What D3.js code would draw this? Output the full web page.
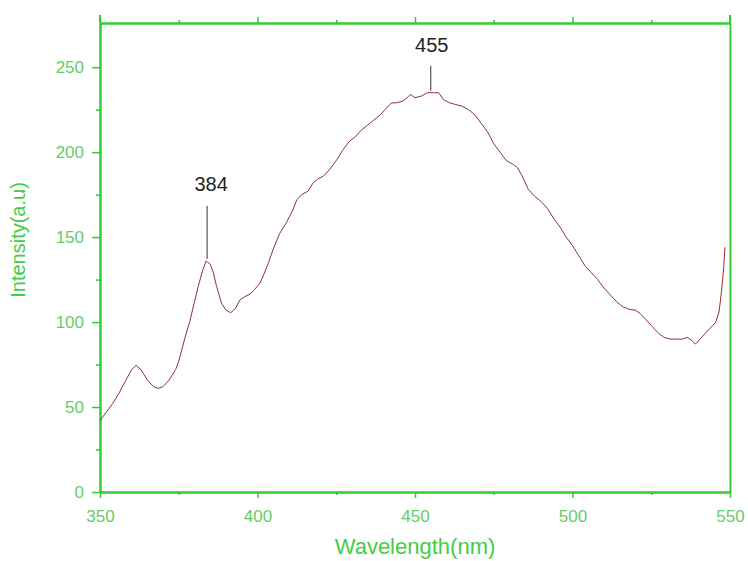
<!DOCTYPE html>
<html>
<head>
<meta charset="utf-8">
<script src="https://cdn.jsdelivr.net/npm/d3@7"></script>
<style>
  html, body { margin: 0; padding: 0; background: #fff; }
  svg { display: block; font-family: "Liberation Sans", Arial, sans-serif; }
</style>
</head>
<body>
<svg id="chart" width="748" height="561"></svg>
<script>

// emission spectrum
const wavelength = [
  350, 352, 354, 356, 358, 360, 361.5, 363, 365, 367, 368.5, 370, 372, 374, 375,
  376, 377, 378.6, 380, 381.2, 382.5, 383.7, 385, 386, 387, 388.6, 390, 391.5, 393,
  394.4, 396, 397.6, 399, 400.8, 402, 403.5, 405, 407, 409, 411, 412.5, 414, 416,
  417.7, 419, 421, 423, 425, 427, 429, 431, 433, 435, 437, 439, 441, 442.5, 444,
  446, 447.5, 448.5, 450, 452, 454, 456, 457.5, 459, 461, 463, 465, 467, 469, 471,
  473, 475, 477, 479, 481, 482.5, 484, 486, 488, 490, 492, 494, 496, 498, 500, 502,
  504, 506, 508, 510, 512, 514, 516, 518, 520, 521.5, 523, 525, 527, 529, 531, 533,
  535, 536.5, 538, 539, 540.5, 542.5, 544, 545.5, 546.5, 547, 547.5, 548, 548.4
];

const intensity = [
  42, 47, 52, 58, 65, 72, 74.5, 72, 66, 62, 61, 62, 66, 72, 77,
  84, 91, 101, 112, 121, 130, 136, 134, 129, 121, 111, 107, 105.5, 108,
  113, 115, 116.5, 119, 123, 128, 135, 143, 152, 158, 165, 172, 175, 177,
  182, 184, 186, 190, 195, 201, 206, 209, 213, 216, 219, 222, 226, 229, 229,
  230, 232, 234, 232, 233, 235, 235, 235, 231, 229, 228, 227, 225, 222, 217,
  212, 205, 200, 195, 193, 191, 186, 178, 174, 171, 167, 161, 156, 150, 145, 139,
  133, 129, 125, 120, 116, 112, 109, 107.5, 107, 105, 102, 98, 94, 91, 90, 90,
  90, 91, 89, 87, 90, 94, 97, 100, 106, 113, 122, 132, 144
];

const xTicks = [350, 400, 450, 500, 550];
const xMinorTicks = [375, 425, 475, 525];
const yTicks = [0, 50, 100, 150, 200, 250];
const yMinorTicks = [25, 75, 125, 175, 225];

// annotated peaks: wavelength, intensity at peak
const peakLabels = ['384', '455'];
const peakX = [384, 455];
const peakY = [136, 235];

const xTitle = 'Wavelength(nm)';
const yTitle = 'Intensity(a.u)';

const axisGreen = '#33cc33';
const labelGreen = '#66cc66';

const plotLeft = 100, plotRight = 730, plotTop = 23, plotBottom = 492;

const svg = d3.select('#chart');

const x = d3.scaleLinear().domain([350, 550]).range([plotLeft, plotRight]);
const y = d3.scaleLinear().domain([0, 276]).range([plotBottom, plotTop]);

// axis helper: draw line + ticks in green
function styleAxis(g) {
  g.selectAll('path.domain').attr('stroke', axisGreen).attr('stroke-width', 2);
  g.selectAll('.tick line').attr('stroke', axisGreen).attr('stroke-width', 1.5);
  g.selectAll('.tick text')
    .attr('fill', labelGreen)
    .style('font-size', '17px')
    .style('font-family', '"Liberation Sans", Arial, sans-serif');
}

// bottom axis
svg.append('g')
  .attr('transform', `translate(0,${plotBottom})`)
  .call(d3.axisBottom(x).tickValues(xMinorTicks).tickSize(3).tickSizeOuter(0).tickFormat(''))
  .call(styleAxis);

svg.append('g')
  .attr('transform', `translate(0,${plotBottom})`)
  .call(d3.axisBottom(x).tickValues(xTicks).tickSize(6).tickSizeOuter(0).tickPadding(12))
  .call(styleAxis);

// top axis
svg.append('g')
  .attr('transform', `translate(0,${plotTop})`)
  .call(d3.axisTop(x).tickValues(xMinorTicks).tickSize(3).tickSizeOuter(0).tickFormat(''))
  .call(styleAxis);

svg.append('g')
  .attr('transform', `translate(0,${plotTop})`)
  .call(d3.axisTop(x).tickValues(xTicks).tickSize(6).tickSizeOuter(0).tickFormat(''))
  .call(styleAxis);

// left axis
svg.append('g')
  .attr('transform', `translate(${plotLeft},0)`)
  .call(d3.axisLeft(y).tickValues(yMinorTicks).tickSize(4).tickSizeOuter(0).tickFormat(''))
  .call(styleAxis);

svg.append('g')
  .attr('transform', `translate(${plotLeft},0)`)
  .call(d3.axisLeft(y).tickValues(yTicks).tickSize(8).tickSizeOuter(0).tickPadding(8))
  .call(styleAxis);

// right axis, plain line
svg.append('g')
  .attr('transform', `translate(${plotRight},0)`)
  .call(d3.axisRight(y).tickValues([]).tickSizeOuter(0))
  .call(styleAxis);

// left and right lines poke a little above the frame
svg.append('line')
  .attr('x1', plotLeft).attr('x2', plotLeft).attr('y1', plotTop - 8).attr('y2', plotTop)
  .attr('stroke', axisGreen).attr('stroke-width', 2);
svg.append('line')
  .attr('x1', plotRight).attr('x2', plotRight).attr('y1', plotTop - 8).attr('y2', plotTop)
  .attr('stroke', axisGreen).attr('stroke-width', 2);

// spectrum line
const points = wavelength.map((w, i) => [w, intensity[i]]);

svg.append('path')
  .datum(points)
  .attr('fill', 'none')
  .attr('stroke', '#8c3434')
  .attr('stroke-width', 1)
  .attr('d', d3.line().x(d => x(d[0])).y(d => y(d[1])));

// peak annotations
const peaks = svg.append('g')
  .selectAll('g')
  .data(peakLabels)
  .join('g');

peaks.append('line')
  .attr('x1', (d, i) => x(peakX[i]))
  .attr('x2', (d, i) => x(peakX[i]))
  .attr('y1', (d, i) => y(peakY[i]) - (i === 0 ? 55 : 27))
  .attr('y2', (d, i) => y(peakY[i]) - 2)
  .attr('stroke', '#333')
  .attr('stroke-width', 1);

peaks.append('text')
  .attr('x', (d, i) => x(peakX[i]) + (i === 0 ? 4 : 1))
  .attr('y', (d, i) => y(peakY[i]) - (i === 0 ? 70 : 41))
  .attr('text-anchor', 'middle')
  .attr('fill', '#222')
  .style('font-size', '20px')
  .text(d => d);

// axis titles
svg.append('text')
  .attr('x', (plotLeft + plotRight) / 2)
  .attr('y', 554)
  .attr('text-anchor', 'middle')
  .attr('fill', '#44cc44')
  .style('font-size', '22px')
  .text(xTitle);

svg.append('text')
  .attr('transform', 'translate(25,240) rotate(-90)')
  .attr('text-anchor', 'middle')
  .attr('fill', '#44cc44')
  .style('font-size', '20px')
  .text(yTitle);

</script>
</body>
</html>
